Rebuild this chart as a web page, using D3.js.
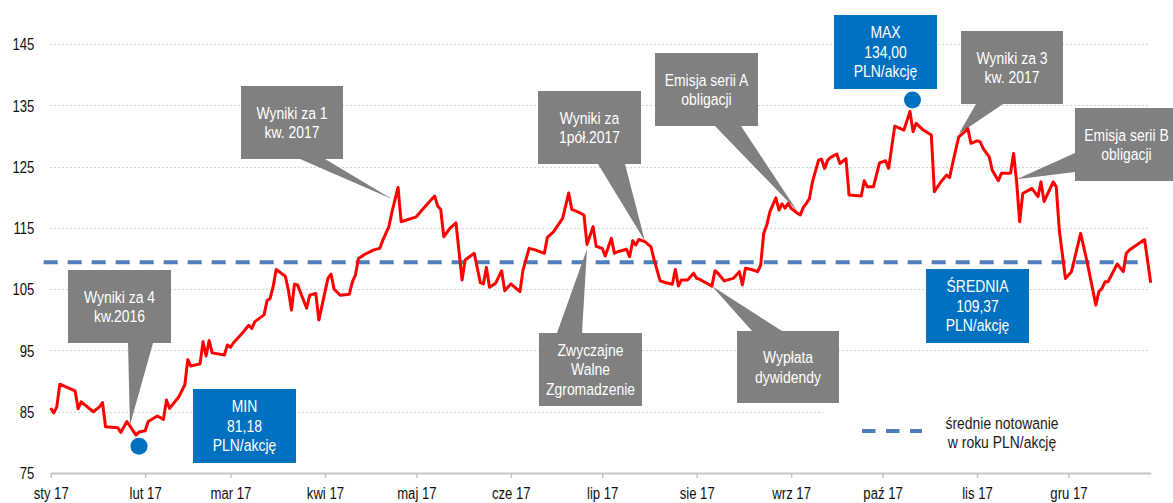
<!DOCTYPE html>
<html>
<head>
<meta charset="utf-8">
<script src="https://cdn.jsdelivr.net/npm/d3@7"></script>
<style>
  body { margin: 0; background: #fff; }
  svg { display: block; font-family: "Liberation Sans", Arial, sans-serif; }
</style>
</head>
<body>
<svg id="chart" width="1173" height="503"></svg>
<script>
// Daily closing prices of the share in 2017 (PLN per share)
const tradeDates = [
  "2017-01-01","2017-01-02","2017-01-03","2017-01-04","2017-01-09","2017-01-10","2017-01-11","2017-01-15",
  "2017-01-17","2017-01-18","2017-01-19","2017-01-23","2017-01-24","2017-01-26","2017-01-29","2017-01-30",
  "2017-02-01","2017-02-02","2017-02-05","2017-02-07","2017-02-08","2017-02-09","2017-02-12","2017-02-14",
  "2017-02-15","2017-02-16","2017-02-19","2017-02-20","2017-02-21","2017-02-22","2017-02-23","2017-02-27",
  "2017-02-28","2017-03-01","2017-03-02","2017-03-05","2017-03-07","2017-03-08","2017-03-09","2017-03-12",
  "2017-03-13","2017-03-14","2017-03-15","2017-03-16","2017-03-19","2017-03-20","2017-03-21","2017-03-22",
  "2017-03-23","2017-03-26","2017-03-27","2017-03-29","2017-03-30","2017-04-02","2017-04-03","2017-04-04",
  "2017-04-06","2017-04-09","2017-04-10","2017-04-11","2017-04-12","2017-04-14","2017-04-17","2017-04-19",
  "2017-04-20","2017-04-22","2017-04-23","2017-04-25","2017-04-26","2017-05-01","2017-05-03","2017-05-07",
  "2017-05-08","2017-05-09","2017-05-10","2017-05-12","2017-05-14","2017-05-16","2017-05-17","2017-05-20",
  "2017-05-22","2017-05-23","2017-05-24","2017-05-25","2017-05-27","2017-05-29","2017-05-30","2017-06-01",
  "2017-06-04","2017-06-05","2017-06-07","2017-06-09","2017-06-12","2017-06-13","2017-06-15","2017-06-18",
  "2017-06-20","2017-06-21","2017-06-23","2017-06-25","2017-06-26","2017-06-28","2017-06-29","2017-07-01",
  "2017-07-02","2017-07-04","2017-07-05","2017-07-06","2017-07-09","2017-07-10","2017-07-11","2017-07-12",
  "2017-07-13","2017-07-15","2017-07-17","2017-07-18","2017-07-20","2017-07-22","2017-07-24","2017-07-25",
  "2017-07-26","2017-07-27","2017-07-29","2017-07-31","2017-08-01","2017-08-02","2017-08-04","2017-08-06",
  "2017-08-07","2017-08-08","2017-08-10","2017-08-13","2017-08-15","2017-08-16","2017-08-17","2017-08-19",
  "2017-08-21","2017-08-22","2017-08-23","2017-08-24","2017-08-25","2017-08-27","2017-08-28","2017-08-29",
  "2017-08-30","2017-08-31","2017-09-01","2017-09-03","2017-09-04","2017-09-05","2017-09-06","2017-09-07",
  "2017-09-08","2017-09-10","2017-09-11","2017-09-12","2017-09-13","2017-09-14","2017-09-16","2017-09-17",
  "2017-09-19","2017-09-20","2017-09-24","2017-09-25","2017-09-26","2017-09-28","2017-09-30","2017-10-02",
  "2017-10-03","2017-10-05","2017-10-08","2017-10-10","2017-10-11","2017-10-12","2017-10-14","2017-10-17",
  "2017-10-18","2017-10-20","2017-10-22","2017-10-23","2017-10-24","2017-10-26","2017-10-28","2017-10-29",
  "2017-10-30","2017-11-01","2017-11-02","2017-11-03","2017-11-05","2017-11-06","2017-11-08","2017-11-09",
  "2017-11-12","2017-11-13","2017-11-14","2017-11-15","2017-11-16","2017-11-19","2017-11-21","2017-11-22",
  "2017-11-23","2017-11-26","2017-11-27","2017-11-28","2017-11-30","2017-12-02","2017-12-05","2017-12-07",
  "2017-12-10","2017-12-11","2017-12-12","2017-12-13","2017-12-14","2017-12-17","2017-12-19","2017-12-20",
  "2017-12-21","2017-12-26","2017-12-28"
];
const closePrices = [
  85.6, 84.8, 85.8, 89.5, 88.4, 85.5, 86.6, 85.0,
  85.8, 86.5, 82.55, 82.4, 81.6, 83.4, 81.18, 81.7,
  81.9, 83.4, 84.3, 83.75, 86.9, 85.55, 87.4, 89.35,
  93.5, 92.45, 92.8, 96.4, 94.1, 96.6, 94.6, 94.25,
  95.9, 95.5, 96.25, 97.9, 99.1, 98.6, 99.7, 100.8,
  103.1, 103.5, 105.4, 108.2, 107.1, 104.85, 101.6, 105.8,
  105.7, 101.9, 104.0, 104.3, 99.95, 106.8, 107.45, 105.0,
  104.0, 104.15, 106.2, 107.3, 110.0, 110.65, 111.4, 111.65,
  113.0, 115.2, 117.6, 121.6, 116.0, 116.8, 118.0, 120.2,
  118.55, 118.0, 113.55, 114.9, 115.8, 106.5, 109.75, 110.85,
  106.05, 105.85, 108.55, 105.3, 105.95, 108.0, 104.75, 105.85,
  104.6, 108.1, 111.65, 111.4, 110.85, 113.45, 114.35, 116.55,
  120.7, 118.0, 117.6, 117.1, 112.3, 115.2, 112.0, 111.65,
  110.4, 113.3, 110.85, 111.1, 111.5, 110.3, 112.9, 112.2,
  113.1, 112.75, 111.9, 109.85, 106.35, 106.05, 105.8, 108.2,
  105.5, 106.5, 106.5, 107.6, 106.75, 106.6, 106.05, 105.5,
  108.0, 107.6, 106.35, 106.75, 107.85, 105.7, 108.4, 108.2,
  107.85, 108.9, 114.1, 115.45, 117.6, 119.9, 117.9, 118.9,
  118.2, 119.0, 118.2, 117.4, 117.1, 118.35, 119.0, 119.8,
  122.5, 126.05, 126.2, 124.7, 126.05, 126.5, 127.05, 125.5,
  126.3, 120.35, 120.2, 122.7, 121.7, 121.7, 125.6, 125.95,
  124.7, 131.6, 130.95, 134.0, 130.7, 132.05, 131.1, 130.15,
  120.9, 122.4, 123.6, 123.2, 125.5, 129.85, 130.7, 131.2,
  128.8, 129.2, 129.05, 127.95, 126.6, 124.4, 122.7, 123.9,
  123.9, 127.15, 122.5, 116.0, 120.6, 121.45, 120.1, 122.5,
  119.3, 122.5, 121.7, 114.65, 106.75, 107.85, 114.1, 109.75,
  102.4, 104.6, 105.1, 106.2, 106.2, 109.1, 107.85, 110.85,
  111.4, 113.1, 106.05
];
// Average quotation over the year (PLN per share)
const averagePrice = 109.37;

const yTickValues = [75, 85, 95, 105, 115, 125, 135, 145];
const monthNames = ["sty", "lut", "mar", "kwi", "maj", "cze", "lip", "sie", "wrz", "paź", "lis", "gru"];

const parseDate = d3.utcParse("%Y-%m-%d");
const series = tradeDates.map((d, i) => ({ date: parseDate(d), value: closePrices[i] }));

const minPoint = series.reduce((a, b) => (b.value < a.value ? b : a));
const maxPoint = series.reduce((a, b) => (b.value > a.value ? b : a));
const plPrice = v => d3.format(".2f")(v).replace(".", ",");

// Event callouts: text, box layout (px) and the point on the chart the pointer aims at
const events = [
  { lines: ["Wyniki za 4", "kw.2016"], box: [68, 270, 103, 73], base: [[128, 343], [153, 343]], tip: ["2017-01-27", 82.8] },
  { lines: ["Wyniki za 1", "kw. 2017"], box: [241, 86, 102, 73], base: [[300, 159], [325, 159]], tip: ["2017-04-23", 119.7] },
  { lines: ["Zwyczajne", "Walne", "Zgromadzenie"], box: [539, 333, 103, 73], base: [[557, 333], [582, 333]], tip: ["2017-06-26", 111.55] },
  { lines: ["Wyniki za", "1pół.2017"], box: [538, 91, 103, 73], base: [[598, 164], [625, 164]], tip: ["2017-07-15", 112.85] },
  { lines: ["Emisja serii A", "obligacji"], box: [655, 53, 103, 73], base: [[715, 126], [741, 126]], tip: ["2017-09-03", 117.75] },
  { lines: ["Wypłata", "dywidendy"], box: [737, 331, 102, 72], base: [[752, 331], [782, 331]], tip: ["2017-08-06", 105.5] },
  { lines: ["Wyniki za 3", "kw. 2017"], box: [961, 31, 102, 73], base: [[976, 104], [1003, 104]], tip: ["2017-10-26", 130.3] },
  { lines: ["Emisja serii B", "obligacji"], box: [1075, 108, 103, 73], base: [[1075, 153], [1075, 172]], tip: ["2017-11-14", 122.95] }
];

// Summary boxes (min / max / average)
const summaries = [
  { lines: ["MIN", plPrice(minPoint.value), "PLN/akcję"], box: [193, 389, 103, 74] },
  { lines: ["MAX", plPrice(maxPoint.value), "PLN/akcję"], box: [834, 15, 103, 74] },
  { lines: ["ŚREDNIA", plPrice(averagePrice), "PLN/akcję"], box: [926, 269, 103, 74] }
];

const NARROW = 0.82;      // horizontal squeeze giving a condensed face
const LINE_H = 19.5;
const GREY = "#808080";
const BLUE = "#0070C0";

const svg = d3.select("#chart");

const x = d3.scaleUtc()
  .domain([parseDate("2017-01-01"), parseDate("2017-12-28")])
  .range([50.7, 1150.7]);
const y = d3.scaleLinear().domain([75, 145]).range([473, 44]);

function narrowLines(parent, cx, cy, lines, size, fill) {
  const g = parent.append("g").attr("transform", `translate(${cx},${cy}) scale(${NARROW},1)`);
  const t = g.append("text")
    .attr("text-anchor", "middle")
    .attr("font-size", size)
    .attr("fill", fill);
  lines.forEach((s, i) => {
    t.append("tspan")
      .attr("x", 0)
      .attr("y", (i - (lines.length - 1) / 2) * LINE_H)
      .attr("dy", "0.35em")
      .text(s);
  });
  return g;
}

// Horizontal dotted gridlines
svg.append("g")
  .selectAll("line")
  .data(yTickValues.slice(1))
  .join("line")
  .attr("x1", 50).attr("x2", 1148)
  .attr("y1", d => Math.round(y(d)) + 0.5)
  .attr("y2", d => Math.round(y(d)) + 0.5)
  .attr("stroke", "#d4d4d4")
  .attr("stroke-width", 1)
  .attr("stroke-dasharray", "2,2");

// Legend panel (opaque, hides the gridline behind it)
const legend = svg.append("g");
legend.append("rect").attr("x", 823).attr("y", 399).attr("width", 330).attr("height", 64).attr("fill", "#fff");
legend.append("line")
  .attr("x1", 862).attr("x2", 922).attr("y1", 431).attr("y2", 431)
  .attr("stroke", "#4F7FBF").attr("stroke-width", 4)
  .attr("stroke-dasharray", "13.5,10.5");
narrowLines(legend, 1002, 432.5, ["średnie notowanie", "w roku PLN/akcję"], 17, "#1a1a1a");

// Y axis labels
const yAxis = svg.append("g")
  .attr("transform", "translate(50,0)")
  .call(d3.axisLeft(y).tickValues(yTickValues).tickSize(0).tickFormat(d3.format("d")));
yAxis.select(".domain").remove();
yAxis.selectAll("text")
  .attr("x", -19.1)
  .attr("dy", "0.36em")
  .attr("font-size", 16)
  .attr("font-family", "Liberation Sans, Arial, sans-serif")
  .attr("fill", "#111")
  .attr("transform", `scale(${NARROW},1)`);

// X axis with month ticks
const xAxis = svg.append("g")
  .attr("transform", "translate(0,473)")
  .call(d3.axisBottom(x)
    .ticks(d3.utcMonth.every(1))
    .tickFormat(d => monthNames[d.getUTCMonth()] + " 17")
    .tickSize(5)
    .tickSizeOuter(0));
xAxis.select(".domain").attr("stroke", "#C6C6C6").attr("stroke-width", 2);
xAxis.selectAll(".tick line").attr("stroke", "#C6C6C6").attr("stroke-width", 1.5);
xAxis.selectAll("text")
  .attr("y", 26.5)
  .attr("dy", 0)
  .attr("font-size", 16)
  .attr("font-family", "Liberation Sans, Arial, sans-serif")
  .attr("fill", "#111")
  .attr("transform", `scale(${NARROW},1)`);

// Average price line
svg.append("line")
  .attr("x1", x(series[0].date) - 7)
  .attr("x2", x(series[series.length - 1].date) - 2)
  .attr("y1", y(averagePrice)).attr("y2", y(averagePrice))
  .attr("stroke", "#4F7FBF")
  .attr("stroke-width", 4)
  .attr("stroke-dasharray", "14,10");

// Event callouts
const callouts = svg.append("g");
events.forEach(ev => {
  const tip = [x(parseDate(ev.tip[0])), y(ev.tip[1])];
  callouts.append("path")
    .attr("d", d3.line()([ev.base[0], tip, ev.base[1]]) + "Z")
    .attr("fill", GREY);
  const [bx, by, bw, bh] = ev.box;
  callouts.append("rect").attr("x", bx).attr("y", by).attr("width", bw).attr("height", bh).attr("fill", GREY);
  narrowLines(callouts, bx + bw / 2, by + bh / 2, ev.lines, 17, "#fff");
});

// Price line
svg.append("path")
  .datum(series)
  .attr("fill", "none")
  .attr("stroke", "#FF0000")
  .attr("stroke-width", 3)
  .attr("stroke-linejoin", "round")
  .attr("d", d3.line().x(d => x(d.date)).y(d => y(d.value)));

// Summary boxes
summaries.forEach(s => {
  const [bx, by, bw, bh] = s.box;
  svg.append("rect").attr("x", bx).attr("y", by).attr("width", bw).attr("height", bh).attr("fill", BLUE);
  narrowLines(svg, bx + bw / 2, by + bh / 2, s.lines, 17, "#fff");
});

// Extreme markers
svg.append("circle")
  .attr("cx", x(minPoint.date) + 3).attr("cy", y(minPoint.value) + 11)
  .attr("r", 8.5).attr("fill", BLUE);
svg.append("circle")
  .attr("cx", x(maxPoint.date) + 2.5).attr("cy", y(maxPoint.value) - 11.4)
  .attr("r", 8.5).attr("fill", BLUE);
</script>
</body>
</html>
